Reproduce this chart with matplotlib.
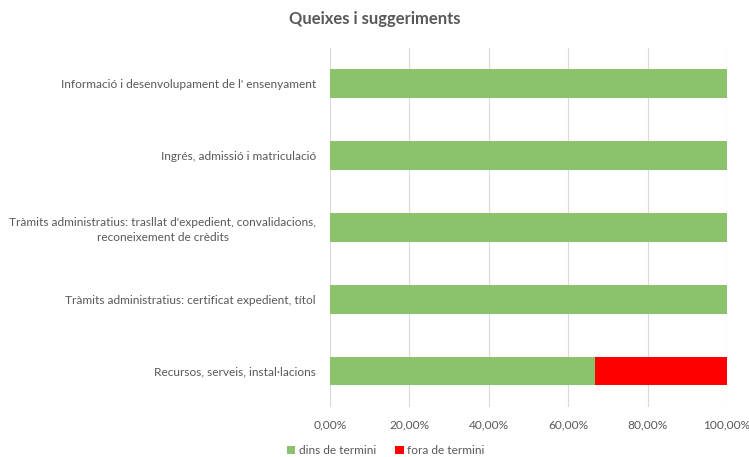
import matplotlib.pyplot as plt
from matplotlib.ticker import FuncFormatter

plt.rcParams["font.family"] = ["Lato", "DejaVu Sans"]

categories = [
    "Recursos, serveis, instal·lacions",
    "Tràmits administratius: certificat expedient, títol",
    "Tràmits administratius: trasllat d'expedient, convalidacions,\nreconeixement de crèdits",
    "Ingrés, admissió i matriculació",
    "Informació i desenvolupament de l' ensenyament",
]
dins = [0.6667, 1.0, 1.0, 1.0, 1.0]
fora = [0.3333, 0.0, 0.0, 0.0, 0.0]
ticks = [0, 0.2, 0.4, 0.6, 0.8, 1.0]

fig = plt.figure(figsize=(7.49, 4.57), dpi=100)
ax = fig.add_axes([0.4406, 0.1094, 0.53, 0.786])

y = range(len(categories))
ax.barh(y, dins, height=0.4, color="#8dc26d", label="dins de termini", zorder=3)
ax.barh(y, fora, left=dins, height=0.4, color="#ff0000", label="fora de termini", zorder=3)

ax.set_yticks(list(y))
ax.set_yticklabels(categories, multialignment="center", linespacing=1.45)
ax.tick_params(axis="y", length=0, pad=10)
ax.set_ylim(-0.5, len(categories) - 0.5)

ax.set_xlim(0, 1.0)
ax.set_xticks(ticks)
ax.xaxis.set_major_formatter(FuncFormatter(lambda v, p: f"{v * 100:.2f}%".replace(".", ",")))
ax.tick_params(axis="x", length=0, pad=9)
ax.tick_params(colors="#595959", labelsize=8.6)
ax.grid(axis="x", color="#d9d9d9", linewidth=0.8, zorder=0)
for s in ax.spines.values():
    s.set_visible(False)

fig.suptitle("Queixes i suggeriments", x=0.5, y=0.975, fontsize=12,
             fontweight="bold", color="#595959")

fig.legend(loc="lower center", bbox_to_anchor=(0.515, -0.022), ncol=2, frameon=False,
           fontsize=8.6, labelcolor="#595959", handlelength=0.7, handleheight=0.7,
           handletextpad=0.3, columnspacing=1.6)

fig.savefig("out.png", dpi=100)
